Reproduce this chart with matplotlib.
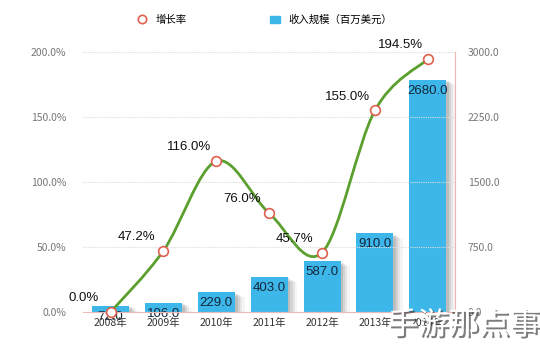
import matplotlib.pyplot as plt
import matplotlib.patheffects as pe
from matplotlib.path import Path
from matplotlib.patches import PathPatch, Patch
from matplotlib.lines import Line2D
import numpy as np

plt.rcParams['font.family'] = ['Noto Sans CJK SC', 'DejaVu Sans']

years = ['2008年', '2009年', '2010年', '2011年', '2012年', '2013年', '2014年']
revenue = [72.0, 106.0, 229.0, 403.0, 587.0, 910.0, 2680.0]
growth = [0.0, 47.2, 116.0, 76.0, 45.7, 155.0, 194.5]

BAR = '#3db7ea'
LINE = '#5b9f2e'
DOT = '#e0604f'
AXIS = '#f0b8b4'
NUM_FONT = ['Liberation Sans', 'DejaVu Sans']

fig = plt.figure(figsize=(5.4, 3.48), dpi=100)
ax = fig.add_axes([0.154, 0.1034, 0.689, 0.7472])
ax2 = ax.twinx()

x = np.arange(len(years))

# revenue bars on the right axis, with a soft shadow
shadow = [pe.SimplePatchShadow(offset=(o, -o * 0.5), shadow_rgbFace='black', alpha=a)
          for o, a in [(7, 0.04), (5, 0.06), (3.5, 0.08), (2, 0.1)]]
ax2.bar(x, revenue, width=0.7, color=BAR, zorder=2,
        path_effects=shadow + [pe.Normal()])
for xi, v in zip(x, revenue):
    ax2.annotate(f'{v:.1f}', (xi, v), xytext=(0, -8), textcoords='offset points',
                 ha='center', va='center', fontsize=9.5, color='#13263a',
                 family=NUM_FONT, zorder=5)

ax2.set_ylim(0, 3000)
ax2.set_yticks([0, 750, 1500, 2250, 3000])
ax2.set_yticklabels([f'{t:.1f}' for t in [0, 750, 1500, 2250, 3000]])

# growth curve on the left axis, drawn as a smooth Catmull-Rom path
ax.set_zorder(ax2.get_zorder() + 1)
ax.patch.set_visible(False)
pts = np.column_stack([x, growth]).astype(float)
verts = [pts[0]]
codes = [Path.MOVETO]
for i in range(len(pts) - 1):
    p0 = pts[i - 1] if i > 0 else pts[i]
    p1, p2 = pts[i], pts[i + 1]
    p3 = pts[i + 2] if i + 2 < len(pts) else pts[i + 1]
    verts += [p1 + (p2 - p0) / 6, p2 - (p3 - p1) / 6, p2]
    codes += [Path.CURVE4] * 3
ax.add_patch(PathPatch(Path(verts, codes), fill=False, edgecolor=LINE, lw=2, zorder=3))
ax.plot(x, growth, 'o', ms=7, mfc='white', mec=DOT, mew=1.2, zorder=4, clip_on=False)
for xi, g in zip(x, growth):
    ax.annotate(f'{g:.1f}%', (xi, g), xytext=(-19.5, 10), textcoords='offset points',
                ha='center', va='center', fontsize=9.5, color='#111111',
                family=NUM_FONT, zorder=6)

ax.set_ylim(0, 200)
ax.set_yticks([0, 50, 100, 150, 200])
ax.set_yticklabels([f'{t:.1f}%' for t in [0, 50, 100, 150, 200]])
ax.set_xlim(-0.52, 6.52)
ax.set_xticks(x)
ax.set_xticklabels(years)
ax.yaxis.grid(True, color='#dddddd', lw=0.8, ls=(0, (1, 1)))

for a in (ax, ax2):
    a.tick_params(length=0, labelsize=7.5, colors='#777777')
    for s in ('top', 'left'):
        a.spines[s].set_visible(False)
    a.spines['bottom'].set_color(AXIS)
    a.spines['right'].set_color(AXIS)
ax.tick_params(axis='y', pad=12)
ax.tick_params(axis='x', labelcolor='#333333', pad=4)
ax2.tick_params(axis='y', pad=9)
ax2.spines['bottom'].set_visible(False)

handles = [Line2D([], [], marker='o', ls='none', ms=6, mfc='white', mec=DOT, mew=1.2),
           Patch(color=BAR)]
fig.legend(handles, ['增长率', '收入规模（百万美元）'], loc='center', ncol=2,
           bbox_to_anchor=(0.49, 0.943), frameon=False, fontsize=7.5,
           columnspacing=8, handlelength=1.0, handletextpad=0.8)

fig.text(1.0, 0.065, '手游那点事', ha='right', va='center', fontsize=22,
         color='white',
         path_effects=[pe.withSimplePatchShadow(offset=(1.5, -1.5),
                                                shadow_rgbFace='#444444', alpha=0.7)])

fig.savefig('out.png', dpi=100)
